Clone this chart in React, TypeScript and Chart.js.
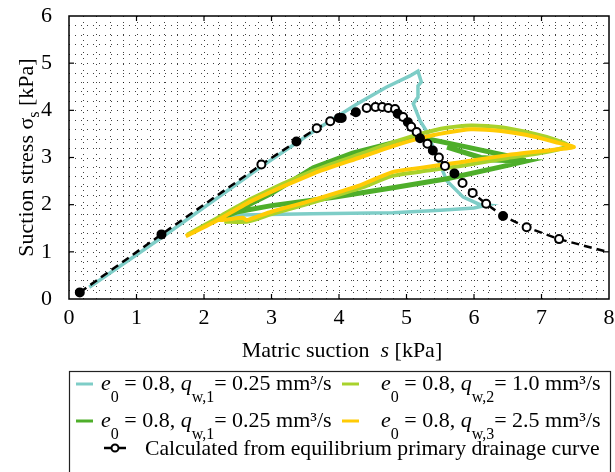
import React, { useEffect, useRef } from 'react';
import { Chart, registerables } from 'chart.js';

Chart.register(...registerables);

const FONT = '"Liberation Serif", "Times New Roman", Times, serif';

// Axis ranges
const xRange = [0, 8];
const yRange = [0, 6];
const gridStep = 0.2;

// Calculated from equilibrium primary drainage curve (s, sigma_s)
const eqS = [0.16, 1.37, 2.85, 3.37, 3.67, 3.87, 4.0, 4.04, 4.25, 4.41, 4.54, 4.64, 4.73, 4.83, 4.87, 4.95, 5.02, 5.07, 5.15, 5.2, 5.31, 5.39, 5.48, 5.57, 5.71, 5.83, 5.98, 6.18, 6.43, 6.78, 7.26, 8.0];
const eqSigma = [0.14, 1.37, 2.85, 3.34, 3.62, 3.77, 3.84, 3.84, 3.96, 4.05, 4.07, 4.07, 4.05, 4.03, 3.93, 3.86, 3.75, 3.65, 3.54, 3.41, 3.29, 3.15, 3.0, 2.82, 2.66, 2.46, 2.25, 2.02, 1.76, 1.52, 1.27, 0.99];
const eqFilled = [1, 1, 0, 1, 0, 0, 1, 1, 1, 0, 0, 0, 0, 0, 1, 0, 1, 0, 0, 1, 0, 1, 0, 0, 1, 0, 0, 0, 1, 0, 0, 0];
const eqMarker = [1, 1, 1, 1, 1, 1, 1, 1, 1, 1, 1, 1, 1, 1, 1, 1, 1, 1, 1, 1, 1, 1, 1, 1, 1, 1, 1, 1, 1, 1, 1, 0];

// e0 = 0.8, q_w,1 = 0.25 mm3/s (teal)
const tealS = [0.3, 1.4, 2.85, 3.62, 4.26, 4.7, 5.05, 5.17, 5.22, 5.17, 5.17, 5.1, 5.15, 5.2, 5.3, 5.47, 5.6, 5.84, 6.09, 6.19, 6.0, 5.5, 4.8, 3.6, 2.5, 2.3];
const tealSigma = [0.25, 1.33, 2.81, 3.55, 4.13, 4.49, 4.73, 4.83, 4.6, 4.52, 4.28, 4.14, 3.96, 3.78, 3.55, 2.94, 2.5, 2.16, 2.0, 1.99, 1.93, 1.88, 1.83, 1.81, 1.78, 1.72];

// e0 = 0.8, q_w,1 = 0.25 mm3/s (green)
const greenS = [2.25, 3.0, 3.62, 4.2, 4.79, 5.2, 5.9, 6.54, 6.76, 6.1, 5.6, 6.2, 6.76, 6.4, 5.6, 4.8, 3.9, 3.0, 2.5, 2.25];
const greenSigma = [1.7, 2.24, 2.78, 3.09, 3.31, 3.43, 3.22, 3.02, 2.94, 3.0, 3.22, 2.95, 2.92, 2.8, 2.55, 2.36, 2.15, 1.98, 1.85, 1.72];

// e0 = 0.8, q_w,2 = 1.0 mm3/s (lime)
const limeS = [1.75, 2.2, 2.72, 3.62, 4.31, 4.8, 5.2, 5.6, 5.95, 6.4, 6.9, 7.2, 7.4, 7.05, 6.5, 5.8, 5.2, 4.79, 4.31, 3.5, 3.0, 2.65, 2.3];
const limeSigma = [1.36, 1.72, 2.14, 2.72, 3.07, 3.32, 3.5, 3.63, 3.68, 3.64, 3.5, 3.38, 3.25, 3.11, 2.99, 2.82, 2.7, 2.61, 2.35, 2.0, 1.8, 1.64, 1.64];

// e0 = 0.8, q_w,3 = 2.5 mm3/s (yellow)
const yellowS = [1.73, 2.2, 2.72, 3.62, 4.31, 4.8, 5.2, 5.6, 5.95, 6.4, 6.9, 7.25, 7.48, 7.1, 6.5, 5.8, 5.2, 4.79, 4.31, 3.5, 3.0, 2.63, 2.58, 2.3, 2.2];
const yellowSigma = [1.33, 1.67, 2.09, 2.66, 3.0, 3.24, 3.41, 3.53, 3.6, 3.56, 3.44, 3.31, 3.22, 3.15, 3.05, 2.9, 2.78, 2.69, 2.41, 2.05, 1.85, 1.67, 1.72, 1.68, 1.67];

type Seg = { t: string; it?: boolean; sub?: boolean };

const legendTexts: Seg[][] = [
  [{ t: 'e', it: true }, { t: '0', sub: true }, { t: ' = 0.8, ' }, { t: 'q', it: true }, { t: 'w,1', sub: true }, { t: '= 0.25 mm³/s' }],
  [{ t: 'e', it: true }, { t: '0', sub: true }, { t: ' = 0.8, ' }, { t: 'q', it: true }, { t: 'w,2', sub: true }, { t: '= 1.0 mm³/s' }],
  [{ t: 'e', it: true }, { t: '0', sub: true }, { t: ' = 0.8, ' }, { t: 'q', it: true }, { t: 'w,1', sub: true }, { t: '= 0.25 mm³/s' }],
  [{ t: 'e', it: true }, { t: '0', sub: true }, { t: ' = 0.8, ' }, { t: 'q', it: true }, { t: 'w,3', sub: true }, { t: '= 2.5 mm³/s' }],
  [{ t: 'Calculated from equilibrium primary drainage curve' }],
];
const xTitle: Seg[] = [{ t: 'Matric suction  ' }, { t: 's', it: true }, { t: ' [kPa]' }];
const yTitle: Seg[] = [{ t: 'Suction stress σ' }, { t: 's', sub: true }, { t: ' [kPa]' }];

const TEAL = '#7ECDC7';
const GREEN = '#4EAE2A';
const LIME = '#A8D22C';
const YELLOW = '#FFCB05';

function richWidth(ctx: CanvasRenderingContext2D, segs: Seg[], size: number, subSize: number) {
  let w = 0;
  for (const s of segs) {
    ctx.font = `${s.it ? 'italic ' : ''}${s.sub ? subSize : size}px ${FONT}`;
    w += ctx.measureText(s.t).width;
  }
  return w;
}

function drawRich(ctx: CanvasRenderingContext2D, segs: Seg[], x: number, y: number, size: number, subSize: number, subDy: number) {
  let cx = x;
  ctx.textBaseline = 'alphabetic';
  ctx.textAlign = 'left';
  for (const s of segs) {
    ctx.font = `${s.it ? 'italic ' : ''}${s.sub ? subSize : size}px ${FONT}`;
    ctx.fillText(s.t, cx, y + (s.sub ? subDy : 0));
    cx += ctx.measureText(s.t).width;
  }
}

const decor = {
  id: 'decor',
  beforeDatasetsDraw(chart: any) {
    const { ctx, chartArea: a, scales } = chart;
    const x = scales.x, y = scales.y;
    ctx.save();
    ctx.strokeStyle = 'rgba(0,0,0,0.75)';
    ctx.lineWidth = 1;
    ctx.setLineDash([1, 5]);
    const nx = Math.round((xRange[1] - xRange[0]) / gridStep);
    for (let i = 1; i < nx; i++) {
      const px = Math.round(x.getPixelForValue(xRange[0] + i * gridStep)) + 0.5;
      ctx.beginPath(); ctx.moveTo(px, a.top); ctx.lineTo(px, a.bottom); ctx.stroke();
    }
    const ny = Math.round((yRange[1] - yRange[0]) / gridStep);
    for (let j = 1; j < ny; j++) {
      const py = Math.round(y.getPixelForValue(yRange[0] + j * gridStep)) + 0.5;
      ctx.beginPath(); ctx.moveTo(a.left, py); ctx.lineTo(a.right, py); ctx.stroke();
    }
    ctx.restore();
  },
  afterDatasetsDraw(chart: any) {
    const { ctx, chartArea: a, scales } = chart;
    const x = scales.x, y = scales.y;
    ctx.save();
    ctx.setLineDash([]);
    ctx.strokeStyle = '#000';
    ctx.lineWidth = 1.5;
    ctx.strokeRect(a.left, a.top, a.right - a.left, a.bottom - a.top);
    ctx.lineWidth = 1.2;
    const tl = 5;
    for (let v = xRange[0] + 1; v < xRange[1]; v++) {
      const px = x.getPixelForValue(v);
      ctx.beginPath(); ctx.moveTo(px, a.bottom); ctx.lineTo(px, a.bottom - tl); ctx.stroke();
      ctx.beginPath(); ctx.moveTo(px, a.top); ctx.lineTo(px, a.top + tl); ctx.stroke();
    }
    for (let v = yRange[0] + 1; v < yRange[1]; v++) {
      const py = y.getPixelForValue(v);
      ctx.beginPath(); ctx.moveTo(a.left, py); ctx.lineTo(a.left + tl, py); ctx.stroke();
      ctx.beginPath(); ctx.moveTo(a.right, py); ctx.lineTo(a.right - tl, py); ctx.stroke();
    }
    ctx.restore();
  },
  afterDraw(chart: any) {
    const { ctx, chartArea: a } = chart;
    ctx.save();
    ctx.fillStyle = '#000';
    // x title
    const xw = richWidth(ctx, xTitle, 22, 16);
    drawRich(ctx, xTitle, (a.left + a.right) / 2 + 3 - xw / 2, 357, 22, 16, 6);
    // y title
    const yw = richWidth(ctx, yTitle, 22, 16);
    ctx.translate(33, (a.top + a.bottom) / 2);
    ctx.rotate(-Math.PI / 2);
    drawRich(ctx, yTitle, -yw / 2, 0, 22, 16, 6);
    ctx.restore();

    // legend
    ctx.save();
    ctx.strokeStyle = '#222';
    ctx.lineWidth = 1.2;
    ctx.strokeRect(69.5, 371.5, 541, 110);
    ctx.fillStyle = '#000';
    const rows = [390, 427, 455];
    const swatch = (color: string, x0: number, yb: number) => {
      ctx.strokeStyle = color; ctx.lineWidth = 3;
      ctx.beginPath(); ctx.moveTo(x0, yb - 6); ctx.lineTo(x0 + 17, yb - 6); ctx.stroke();
    };
    swatch(TEAL, 76, rows[0]);
    drawRich(ctx, legendTexts[0], 101, rows[0], 22, 16, 12);
    swatch(LIME, 342, rows[0]);
    drawRich(ctx, legendTexts[1], 381, rows[0], 22, 16, 12);
    swatch(GREEN, 76, rows[1]);
    drawRich(ctx, legendTexts[2], 101, rows[1], 22, 16, 12);
    swatch(YELLOW, 342, rows[1]);
    drawRich(ctx, legendTexts[3], 381, rows[1], 22, 16, 12);
    // black marker swatch
    ctx.strokeStyle = '#000'; ctx.lineWidth = 2.5;
    ctx.beginPath(); ctx.moveTo(104, rows[2] - 7); ctx.lineTo(126, rows[2] - 7); ctx.stroke();
    ctx.fillStyle = '#fff'; ctx.lineWidth = 2;
    ctx.beginPath(); ctx.arc(115, rows[2] - 7, 3.5, 0, Math.PI * 2); ctx.fill(); ctx.stroke();
    ctx.fillStyle = '#000';
    drawRich(ctx, legendTexts[4], 145, rows[2], 21.7, 16, 12);
    ctx.restore();
  },
};

export default function App() {
  const ref = useRef<HTMLCanvasElement>(null);
  useEffect(() => {
    const pts = (xs: number[], ys: number[]) => xs.map((v, i) => ({ x: v, y: ys[i] }));
    const chart = new Chart(ref.current as HTMLCanvasElement, {
      type: 'line',
      data: {
        datasets: [
          {
            label: 'Calculated from equilibrium primary drainage curve',
            data: pts(eqS, eqSigma),
            borderColor: '#000',
            borderWidth: 2.5,
            borderDash: [8, 5],
            pointRadius: eqMarker.map((m) => (m ? 4 : 0)),
            pointBorderWidth: 2,
            pointBorderColor: '#000',
            pointBackgroundColor: eqFilled.map((f) => (f ? '#000' : '#fff')),
            tension: 0,
          },
          { label: 'q3', data: pts(yellowS, yellowSigma), borderColor: YELLOW, borderWidth: 4, pointRadius: 0, tension: 0.2 },
          { label: 'q2', data: pts(limeS, limeSigma), borderColor: LIME, borderWidth: 4, pointRadius: 0, tension: 0.2 },
          { label: 'q1b', data: pts(greenS, greenSigma), borderColor: GREEN, borderWidth: 5, pointRadius: 0, tension: 0 },
          { label: 'q1a', data: pts(tealS, tealSigma), borderColor: TEAL, borderWidth: 3.5, pointRadius: 0, tension: 0 },
        ],
      },
      options: {
        animation: false,
        responsive: false,
        devicePixelRatio: 1,
        layout: { padding: { left: 0, right: 6, top: 16, bottom: 472 - 299 - 30 } },
        plugins: { legend: { display: false }, tooltip: { enabled: false } },
        scales: {
          x: {
            type: 'linear',
            min: xRange[0],
            max: xRange[1],
            grid: { display: false, drawTicks: false },
            border: { display: false },
            ticks: { stepSize: 1, color: '#000', font: { family: FONT, size: 22 }, padding: 6, maxRotation: 0, autoSkip: false },
            afterFit: (s: any) => { s.height = 30; s.paddingLeft = 0; s.paddingRight = 0; },
          },
          y: {
            type: 'linear',
            min: yRange[0],
            max: yRange[1],
            grid: { display: false, drawTicks: false },
            border: { display: false },
            ticks: { stepSize: 1, color: '#000', font: { family: FONT, size: 22 }, padding: 17, autoSkip: false },
            afterFit: (s: any) => { s.width = 69; s.paddingTop = 0; s.paddingBottom = 0; },
          },
        },
      },
      plugins: [decor],
    } as any);
    return () => chart.destroy();
  }, []);
  return (
    <div style={{ position: 'absolute', left: 0, top: 0, width: 615, height: 472, background: '#fff' }}>
      <canvas ref={ref} width={615} height={472} style={{ display: 'block' }} />
    </div>
  );
}
